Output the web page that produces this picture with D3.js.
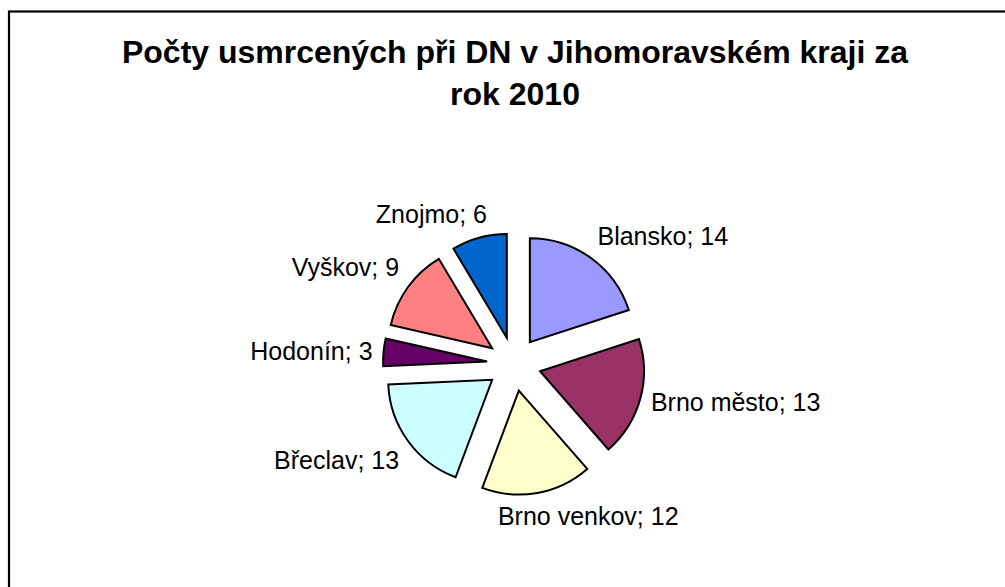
<!DOCTYPE html>
<html>
<head>
<meta charset="utf-8">
<script src="https://cdn.jsdelivr.net/npm/d3@7"></script>
<style>
  html, body { margin: 0; padding: 0; background: #fff; }
  svg { display: block; }
</style>
</head>
<body>
<svg id="chart" width="1005" height="587"></svg>
<script>
const titleLines = ["Počty usmrcených při DN v Jihomoravském kraji za", "rok 2010"];
const categories = ["Blansko", "Brno město", "Brno venkov", "Břeclav", "Hodonín", "Vyškov", "Znojmo"];
const values = [14, 13, 12, 13, 3, 9, 6];
const colors = ["#9999FF", "#993366", "#FFFFCC", "#CCFFFF", "#660066", "#FF8080", "#0066CC"];

const W = 1005, H = 587;
const svg = d3.select("#chart");
const font = "'Liberation Sans', Arial, sans-serif";

// chart frame (right and bottom edges run off the picture)
svg.append("rect")
  .attr("x", 9).attr("y", 11.5)
  .attr("width", 1100).attr("height", 700)
  .attr("fill", "#fff").attr("stroke", "#000").attr("stroke-width", 2.2);

// title
svg.append("g").selectAll("text").data(titleLines).join("text")
  .attr("x", 515)
  .attr("y", (d, i) => 63 + i * 42)
  .attr("text-anchor", "middle")
  .attr("font-family", font)
  .attr("font-weight", "bold")
  .attr("font-size", 32)
  .attr("fill", "#000")
  .text(d => d);

const cx = 514, cy = 364, R = 104, explode = 27, labelR = 142;

const data = categories.map((c, i) => ({ name: c, value: values[i], color: colors[i] }));
const pie = d3.pie().value(d => d.value).sort(null).startAngle(0).endAngle(2 * Math.PI);
const arc = d3.arc().innerRadius(0).outerRadius(R);
const arcs = pie(data);

const g = svg.append("g").attr("transform", `translate(${cx},${cy})`);

const mid = d => (d.startAngle + d.endAngle) / 2;

g.selectAll("path.slice").data(arcs).join("path")
  .attr("class", "slice")
  .attr("d", arc)
  .attr("transform", d => {
    const a = mid(d);
    return `translate(${Math.sin(a) * explode},${-Math.cos(a) * explode})`;
  })
  .attr("fill", d => d.data.color)
  .attr("stroke", "#000")
  .attr("stroke-width", 2)
  .attr("stroke-linejoin", "miter");

// labels: placed outside each slice along its middle angle
const fs = 25;
const labels = g.selectAll("text.lbl").data(arcs).join("text")
  .attr("class", "lbl")
  .attr("font-family", font)
  .attr("font-size", fs)
  .attr("fill", "#000")
  .attr("text-anchor", "middle")
  .text(d => `${d.data.name}; ${d.data.value}`);

const clamp = (v) => Math.max(0, Math.min(1, v));
labels.each(function(d) {
  const a = mid(d);
  const dx = Math.sin(a), dy = -Math.cos(a);
  const w = this.getComputedTextLength();
  const h = 26;
  const ax = dx * labelR, ay = dy * labelR;
  const ox = Math.sign(dx) * (w / 2) * Math.min(1, Math.abs(dx) / 0.33);
  const oy = Math.sign(dy) * (h / 2) * clamp((Math.abs(dy) - 0.25) / 0.3);
  d3.select(this)
    .attr("x", ax + ox)
    .attr("y", ay + oy + fs * 0.35);
});
</script>
</body>
</html>
